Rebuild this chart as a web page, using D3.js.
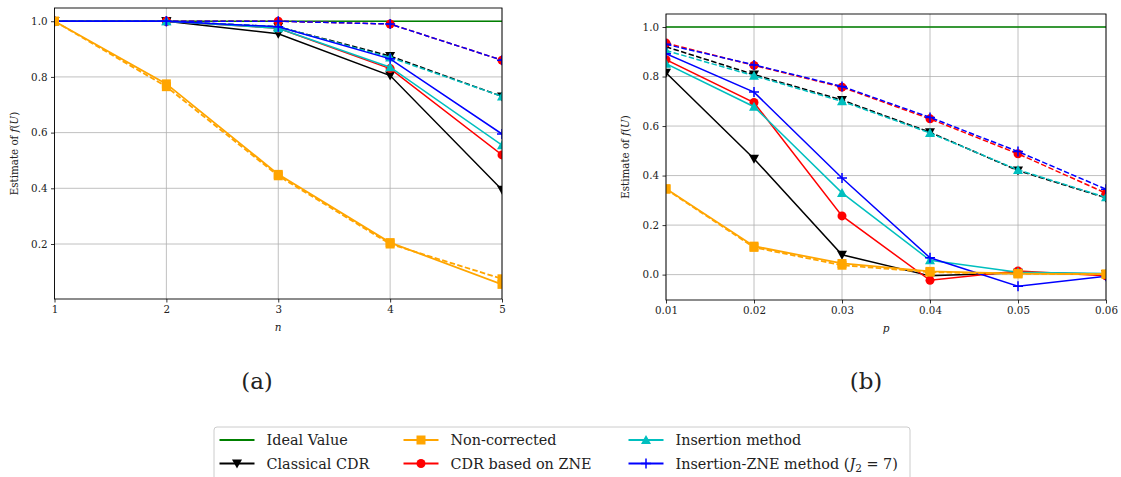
<!DOCTYPE html>
<html>
<head>
<meta charset="utf-8">
<script src="https://cdn.jsdelivr.net/npm/d3@7"></script>
<style>
  html, body { margin: 0; padding: 0; background: #fff; }
  svg text { font-family: "DejaVu Serif", "Liberation Serif", serif; fill: #222; }
</style>
</head>
<body>
<svg id="chart" width="1121" height="477"></svg>
<script>
// ---- data ----
const nValues = [1, 2, 3, 4, 5];
const pValues = [0.01, 0.02, 0.03, 0.04, 0.05, 0.06];

// panel (a): estimate vs n
const idealA        = [1, 1, 1, 1, 1];
const nonCorrA      = [1.0, 0.775, 0.45, 0.205, 0.055];
const nonCorrDashA  = [1.0, 0.765, 0.445, 0.20, 0.075];
const classicalA    = [1.0, 1.0, 0.955, 0.805, 0.395];
const classicalDashA= [1.0, 1.0, 0.98, 0.875, 0.73];
const zneA          = [1.0, 1.0, 0.975, 0.83, 0.52];
const zneDashA      = [1.0, 1.0, 1.0, 0.99, 0.86];
const insertA       = [1.0, 1.0, 0.975, 0.835, 0.555];
const insertDashA   = [1.0, 1.0, 0.98, 0.87, 0.73];
const insZneA       = [1.0, 1.0, 0.98, 0.865, 0.595];
const insZneDashA   = [1.0, 1.0, 1.0, 0.99, 0.86];

// panel (b): estimate vs p
const idealB        = [1, 1, 1, 1, 1, 1];
const nonCorrB      = [0.347, 0.115, 0.045, 0.013, 0.004, 0.002];
const nonCorrDashB  = [0.345, 0.11, 0.038, 0.01, 0.003, 0.002];
const classicalB    = [0.815, 0.468, 0.08, -0.005, 0.008, 0.003];
const classicalDashB= [0.92, 0.808, 0.705, 0.575, 0.42, 0.31];
const zneB          = [0.868, 0.695, 0.237, -0.023, 0.015, -0.005];
const zneDashB      = [0.935, 0.845, 0.757, 0.629, 0.488, 0.329];
const insertB       = [0.852, 0.678, 0.33, 0.058, 0.01, 0.005];
const insertDashB   = [0.905, 0.803, 0.70, 0.572, 0.423, 0.312];
const insZneB       = [0.892, 0.737, 0.39, 0.068, -0.047, -0.007];
const insZneDashB   = [0.93, 0.847, 0.76, 0.635, 0.497, 0.345];

const xTicksA = [1, 2, 3, 4, 5];
const yTicksA = [0.2, 0.4, 0.6, 0.8, 1.0];
const xTicksB = [0.01, 0.02, 0.03, 0.04, 0.05, 0.06];
const yTicksB = [0.0, 0.2, 0.4, 0.6, 0.8, 1.0];

const legendLabels = ["Ideal Value", "Classical CDR", "Non-corrected",
                      "CDR based on ZNE", "Insertion method", "Insertion-ZNE method"];

// ---- styles ----
const C = {
  ideal: "#008000", nonCorr: "#FFA500", classical: "#000000",
  zne: "#FF0000", insert: "#00BFBF", insZne: "#0000FF"
};

const svg = d3.select("#chart");

function marker(g, type, x, y, color) {
  if (type === "square") {
    g.append("rect").attr("x", x - 4.5).attr("y", y - 4.5).attr("width", 9).attr("height", 9).attr("fill", color);
  } else if (type === "circle") {
    g.append("circle").attr("cx", x).attr("cy", y).attr("r", 4.5).attr("fill", color);
  } else if (type === "tridown") {
    g.append("path").attr("d", `M${x - 5},${y - 4} L${x + 5},${y - 4} L${x},${y + 5} Z`).attr("fill", color);
  } else if (type === "triup") {
    g.append("path").attr("d", `M${x - 5},${y + 4} L${x + 5},${y + 4} L${x},${y - 5} Z`).attr("fill", color);
  } else if (type === "plus") {
    g.append("path").attr("d", `M${x - 5},${y} L${x + 5},${y} M${x},${y - 5} L${x},${y + 5}`)
      .attr("stroke", color).attr("stroke-width", 1.5).attr("fill", "none");
  }
}

function panel(cfg) {
  const { id, left, top, right, bottom, xDomain, yDomain, xTicks, yTicks, xFmt, yFmt, xLabel, xs, series } = cfg;
  const x = d3.scaleLinear().domain(xDomain).range([left, right]);
  const y = d3.scaleLinear().domain(yDomain).range([bottom, top]);
  const g = svg.append("g");

  // grid
  g.append("g").selectAll("line").data(xTicks).join("line")
    .attr("x1", d => x(d)).attr("x2", d => x(d)).attr("y1", top).attr("y2", bottom)
    .attr("stroke", "#b0b0b0").attr("stroke-width", 0.8);
  g.append("g").selectAll("line").data(yTicks).join("line")
    .attr("x1", left).attr("x2", right).attr("y1", d => y(d)).attr("y2", d => y(d))
    .attr("stroke", "#b0b0b0").attr("stroke-width", 0.8);

  // clip
  svg.append("clipPath").attr("id", "clip" + id).append("rect")
    .attr("x", left).attr("y", top).attr("width", right - left).attr("height", bottom - top);
  const plot = g.append("g").attr("clip-path", `url(#clip${id})`);

  const line = d3.line().x((d, i) => x(xs[i])).y(d => y(d));
  series.forEach(s => {
    plot.append("path").datum(s.values).attr("d", line)
      .attr("fill", "none").attr("stroke", s.color).attr("stroke-width", s.width || 1.5)
      .attr("stroke-dasharray", s.dash ? "5.5,2.4" : null);
    if (s.marker) s.values.forEach((v, i) => marker(plot, s.marker, x(xs[i]), y(v), s.color));
  });

  // axes
  const xAxis = d3.axisBottom(x).tickValues(xTicks).tickFormat(xFmt).tickSize(3.5).tickPadding(3.5);
  const yAxis = d3.axisLeft(y).tickValues(yTicks).tickFormat(yFmt).tickSize(3.5).tickPadding(3.5);
  const gx = g.append("g").attr("transform", `translate(0,${bottom})`).call(xAxis);
  const gy = g.append("g").attr("transform", `translate(${left},0)`).call(yAxis);
  [gx, gy].forEach(a => {
    a.select(".domain").remove();
    a.selectAll("line").attr("stroke", "#000").attr("stroke-width", 0.8);
    a.selectAll("text").attr("font-size", 10.3).attr("fill", "#222")
      .style("font-family", '"DejaVu Serif", serif');
  });

  // frame
  g.append("rect").attr("x", left).attr("y", top).attr("width", right - left).attr("height", bottom - top)
    .attr("fill", "none").attr("stroke", "#000").attr("stroke-width", 0.9);

  // axis labels
  g.append("text").attr("x", (left + right) / 2).attr("y", bottom + 32)
    .attr("text-anchor", "middle").attr("font-size", 10.5).attr("font-style", "italic").text(xLabel);
  const yl = g.append("text").attr("transform", `translate(${left - 37},${(top + bottom) / 2}) rotate(-90)`)
    .attr("text-anchor", "middle").attr("font-size", 10.3);
  yl.append("tspan").text("Estimate of ");
  yl.append("tspan").attr("font-style", "italic").text("f");
  yl.append("tspan").text("(");
  yl.append("tspan").attr("font-style", "italic").text("U");
  yl.append("tspan").text(")");
}

function seriesList(d) {
  return [
    { values: d.ideal, color: C.ideal },
    { values: d.classical, color: C.classical, marker: "tridown" },
    { values: d.classicalDash, color: C.classical, marker: "tridown", dash: true },
    { values: d.zne, color: C.zne, marker: "circle" },
    { values: d.zneDash, color: C.zne, marker: "circle", dash: true },
    { values: d.insert, color: C.insert, marker: "triup" },
    { values: d.insertDash, color: C.insert, marker: "triup", dash: true },
    { values: d.insZne, color: C.insZne, marker: "plus" },
    { values: d.insZneDash, color: C.insZne, marker: "plus", dash: true },
    { values: d.nonCorr, color: C.nonCorr, marker: "square", width: 1.8 },
    { values: d.nonCorrDash, color: C.nonCorr, marker: "square", dash: true, width: 1.8 }
  ];
}

panel({
  id: "a", left: 54.5, right: 502, top: 8, bottom: 299,
  xDomain: [1, 5], yDomain: [0.0025, 1.0475],
  xTicks: xTicksA, yTicks: yTicksA, xFmt: d3.format("d"), yFmt: d3.format(".1f"),
  xLabel: "n", xs: nValues,
  series: seriesList({
    ideal: idealA, nonCorr: nonCorrA, nonCorrDash: nonCorrDashA, classical: classicalA,
    classicalDash: classicalDashA, zne: zneA, zneDash: zneDashA, insert: insertA,
    insertDash: insertDashA, insZne: insZneA, insZneDash: insZneDashA
  })
});

panel({
  id: "b", left: 666, right: 1106, top: 14, bottom: 300,
  xDomain: [0.01, 0.06], yDomain: [-0.1025, 1.0525],
  xTicks: xTicksB, yTicks: yTicksB, xFmt: d3.format(".2f"), yFmt: d3.format(".1f"),
  xLabel: "p", xs: pValues,
  series: seriesList({
    ideal: idealB, nonCorr: nonCorrB, nonCorrDash: nonCorrDashB, classical: classicalB,
    classicalDash: classicalDashB, zne: zneB, zneDash: zneDashB, insert: insertB,
    insertDash: insertDashB, insZne: insZneB, insZneDash: insZneDashB
  })
});

// sub-captions
svg.append("text").attr("x", 257).attr("y", 389).attr("text-anchor", "middle").attr("font-size", 23).text("(a)");
svg.append("text").attr("x", 866).attr("y", 389).attr("text-anchor", "middle").attr("font-size", 23).text("(b)");

// legend
const lg = svg.append("g");
lg.append("rect").attr("x", 214).attr("y", 427).attr("width", 696).attr("height", 60).attr("rx", 3)
  .attr("fill", "#fff").attr("stroke", "#ccc").attr("stroke-width", 1);
const legendItems = [
  { label: legendLabels[0], color: C.ideal, marker: null, col: 0, row: 0 },
  { label: legendLabels[1], color: C.classical, marker: "tridown", col: 0, row: 1 },
  { label: legendLabels[2], color: C.nonCorr, marker: "square", col: 1, row: 0 },
  { label: legendLabels[3], color: C.zne, marker: "circle", col: 1, row: 1 },
  { label: legendLabels[4], color: C.insert, marker: "triup", col: 2, row: 0 },
  { label: legendLabels[5], color: C.insZne, marker: "plus", col: 2, row: 1, math: true }
];
const colX = [219.5, 403.5, 628.5];
const rowY = [440, 463.5];
legendItems.forEach(it => {
  const x0 = colX[it.col], y0 = rowY[it.row];
  lg.append("line").attr("x1", x0).attr("x2", x0 + 35).attr("y1", y0).attr("y2", y0)
    .attr("stroke", it.color).attr("stroke-width", 2);
  if (it.marker) marker(lg, it.marker, x0 + 17.5, y0, it.color);
  const t = lg.append("text").attr("x", x0 + 47).attr("y", y0 + 5).attr("font-size", 14.4);
  t.append("tspan").text(it.label);
  if (it.math) {
    t.append("tspan").text(" (");
    t.append("tspan").attr("font-style", "italic").text("J");
    t.append("tspan").attr("font-size", 10.5).attr("dy", 3).text("2");
    t.append("tspan").attr("dy", -3).text(" = 7)");
  }
});
</script>
</body>
</html>
